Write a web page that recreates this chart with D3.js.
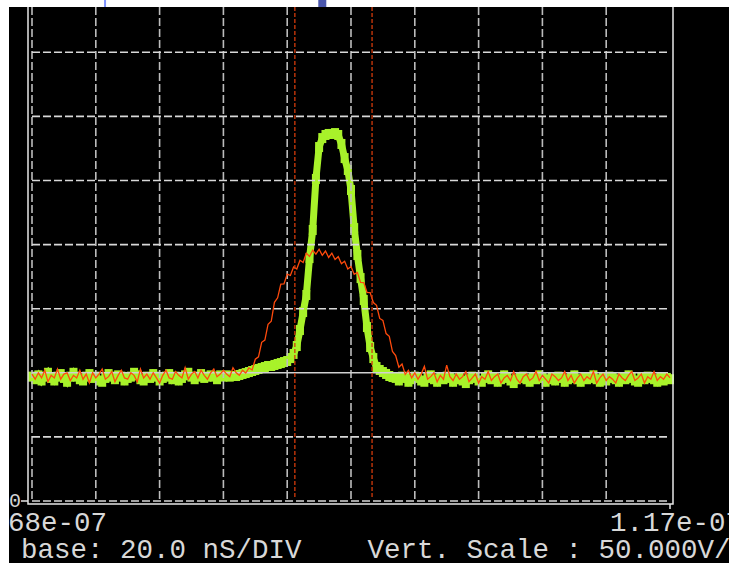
<!DOCTYPE html>
<html>
<head>
<meta charset="utf-8">
<script src="https://cdn.jsdelivr.net/npm/d3@7"></script>
<style>
html,body{margin:0;padding:0;background:#fff;}
svg{display:block;}
text{font-family:"Liberation Mono","DejaVu Sans Mono",monospace;white-space:pre;}
</style>
</head>
<body>
<svg id="chart" width="729" height="563"></svg>
<script>
// ---- data (time in ns from left edge, values in volts) ----
const timeStepNs = 1;
const greenV = [
 97,95,98,94,97,100,96,94,97,99,
 96,93,97,100,97,95,94,97,99,96,
 97,94,93,96,99,97,95,98,97,94,
 96,97,100,98,95,94,97,96,99,97,
 94,96,97,99,95,97,94,96,98,100,
 97,95,97,99,96,97,98,97,95,98,
 97,98,
 97,97.5,97.5,98.3,99.1,99.8,100.6,101.4,
 102.2,103.0,103.7,104.5,105.3,105.3,106.1,106.9,107.6,108.4,
 109.2,111.5,114.7,120.9,133.4,147.4,160.7,189.5,211.4,251.2,
 276.1,283.1,285.5,286.3,286.3,287.0,285.5,278.5,267.5,258.2,
 242.6,212.9,191.9,173.9,156.8,135.7,120.1,111.5,104.5,102.2,
 100.6,99.1,97.5,96.7,
 96,94,97,96,93,95,97,96,94,93,
 96,98,95,93,96,95,97,96,93,95,
 96,94,92,95,97,96,94,93,96,98,
 95,96,93,95,98,96,94,92,95,96,
 97,95,93,96,95,98,96,93,95,96,
 94,97,96,93,95,96,98,95,93,96,
 95,96,98,95,93,96,94,97,96,95,
 93,96,95,98,96,94,93,96,95,97,
 96,95,93,96,94,96,95
];
const redV = [
 99,95,100,96,102,93,98,96,103,95,
 99,100,94,98,96,102,95,99,92,100,
 96,99,103,95,97,101,93,98,102,96,
 95,100,98,93,103,96,99,95,100,96,
 92,98,102,96,95,101,98,96,104,95,
 99,101,96,102,98,95,100,103,97,99,
 102,99,97,104,100,98,102,
 99.8,103.9,102.2,110.6,112.5,123.8,125.5,137.9,140.2,155.0,
 158.5,169.2,169.4,177.0,175.9,182.5,181.0,187.8,186.1,193.3,
 190.8,195.6,192.5,196.4,191.6,195.0,190.0,193.3,188.4,190.6,
 185.0,187.0,181.0,182.9,176.8,178.2,170.5,170.4,162.8,162.5,
 154.8,152.6,142.4,140.9,130.6,128.5,116.6,113.4,104.3,106.9,
 98.8,101.9,
 96,100,95,99,105,95,97,100,93,98,
 95,106,97,94,99,95,97,101,93,96,
 99,92,97,95,101,94,97,99,92,96,
 98,94,101,95,92,97,99,94,96,101,
 94,98,95,92,99,97,94,96,101,94,
 98,92,96,99,94,97,95,101,92,96,
 99,94,97,95,92,99,96,94,98,101,
 94,96,99,92,97,95,101,94,97,95,
 99,96
];
const cursorTimes = [82.4, 106.6];
const gridTimes = [0,20,40,60,80,100,120,140,160,180];
const gridVolts = [0,50,150,200,250,300,350];
const referenceVolts = [100];
const markerTimes = [22.9, 91.0];
const timeLabels = ["68e-07", "1.17e-07"];
const voltLabels = ["0"];
const footerLabels = ["base: 20.0 nS/DIV    Vert. Scale : 50.000V/DIV"];

// ---- scales ----
const x = d3.scaleLinear().domain([0, 200]).range([32, 670]);
const y = d3.scaleLinear().domain([0, 400]).range([501, 501 - 8 * 64.1]);

const svg = d3.select("#chart");
svg.append("rect").attr("x", 9).attr("y", 7).attr("width", 720).attr("height", 556).attr("fill", "#000");

// top markers
svg.append("rect").attr("x", x(markerTimes[0]) - 1).attr("y", 0).attr("width", 2).attr("height", 7).attr("fill", "#7f93ff");
svg.append("rect").attr("x", x(markerTimes[1]) - 4).attr("y", 0).attr("width", 8).attr("height", 7).attr("fill", "#4b57ad");

const greenData = greenV.map((v, i) => [i * timeStepNs, v]);
const redData = redV.map((v, i) => [i * timeStepNs, v]);
const line = d3.line().x(d => x(d[0])).y(d => y(d[1]));

// green trace
svg.append("path").datum(greenData).attr("d", line)
  .attr("fill", "none").attr("stroke", "#a8f22a").attr("stroke-width", 7).attr("stroke-linejoin", "miter");
svg.append("g").selectAll("rect").data(greenData).join("rect")
  .attr("x", d => x(d[0]) - 4).attr("y", d => y(d[1]) - 5)
  .attr("width", 8).attr("height", 10).attr("fill", "#a8f22a");

// grid
const grid = svg.append("g").attr("stroke", "#bcbcbc").attr("stroke-width", 1.6).attr("stroke-dasharray", "8,3");
grid.selectAll(".v").data(gridTimes).join("line")
  .attr("x1", d => x(d)).attr("x2", d => x(d)).attr("y1", 7).attr("y2", y(0));
grid.selectAll(".h").data(gridVolts).join("line")
  .attr("x1", x(0)).attr("x2", 668).attr("y1", d => y(d)).attr("y2", d => y(d))
  .attr("stroke", "#d8d8d8");
svg.selectAll(".ref").data(referenceVolts).join("line")
  .attr("x1", x(0)).attr("x2", 668).attr("y1", d => y(d)).attr("y2", d => y(d))
  .attr("stroke", "#d0d0d0").attr("stroke-width", 1.5);

// red trace
svg.append("path").datum(redData).attr("d", line)
  .attr("fill", "none").attr("stroke", "#ff4a0c").attr("stroke-width", 1.3);

// cursors
svg.selectAll(".cur").data(cursorTimes).join("line")
  .attr("x1", d => x(d)).attr("x2", d => x(d)).attr("y1", 7).attr("y2", 498)
  .attr("stroke", "#d23a0a").attr("stroke-width", 1.3).attr("stroke-dasharray", "4,2");

// frame
const frame = svg.append("g").attr("stroke", "#e6e6e6").attr("stroke-width", 1.5).attr("fill", "none");
frame.append("path").attr("d", `M${x(0)-4},7V${y(0)+3}H${x(200)+3}V7`);
frame.append("line").attr("x1", x(0) - 11).attr("x2", x(0) - 4).attr("y1", y(0)).attr("y2", y(0));
frame.append("line").attr("x1", x(200)).attr("x2", x(200)).attr("y1", y(0) + 3).attr("y2", y(0) + 8);

// labels
svg.append("text").attr("x", 9).attr("y", 507).attr("font-size", 20).attr("fill", "#d4d4d4").text(voltLabels[0]);
svg.append("text").attr("x", 8).attr("y", 531).attr("font-size", 27.5).attr("fill", "#d8d8d8").text(timeLabels[0]);
svg.append("text").attr("x", 610).attr("y", 531).attr("font-size", 27.5).attr("fill", "#d8d8d8").text(timeLabels[1]);
svg.append("text").attr("x", 21).attr("y", 558).attr("font-size", 27.5).attr("fill", "#d8d8d8").text(footerLabels[0]);
</script>
</body>
</html>
